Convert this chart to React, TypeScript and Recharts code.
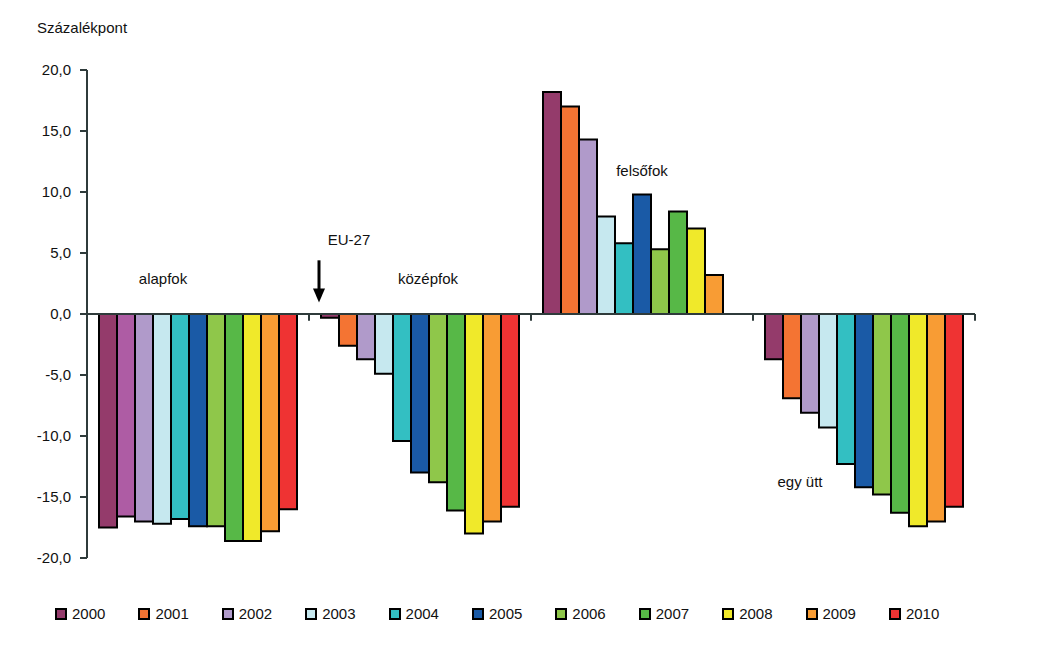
import React from 'react'
import { BarChart, Bar, XAxis, YAxis, ReferenceLine, ReferenceDot, Cell } from 'recharts'

const categories = ['alapfok', 'középfok', 'felsőfok', 'egy ütt']
const years = ['2000', '2001', '2002', '2003', '2004', '2005', '2006', '2007', '2008', '2009', '2010']

const alapfok = [-17.5, -16.6, -17.0, -17.2, -16.8, -17.4, -17.4, -18.6, -18.6, -17.8, -16.0]
const kozepfok = [-0.3, -2.6, -3.7, -4.9, -10.4, -13.0, -13.8, -16.1, -18.0, -17.0, -15.8]
const felsofok = [18.2, 17.0, 14.3, 8.0, 5.8, 9.8, 5.3, 8.4, 7.0, 3.2, null]
const egyutt = [-3.7, -6.9, -8.1, -9.3, -12.3, -14.2, -14.8, -16.3, -17.4, -17.0, -15.8]

const yTicks = [-20, -15, -10, -5, 0, 5, 10, 15, 20]

const colors = ['#943B6B', '#F47433', '#B09ACA', '#C6E8EF', '#33BFC2', '#1A5AA6', '#8FC74A', '#57B847', '#F0E92A', '#F89C34', '#EF3333']
// az alapfok 2001-es oszlopa eltérő színű az eredetin
const alapfok2001Color = '#AE5CA4'

const seriesByCat = [alapfok, kozepfok, felsofok, egyutt]
const chartData = categories.map((cat, ci) => {
  const row: { [key: string]: string | number | null } = { cat }
  years.forEach((y, yi) => {
    row[y] = seriesByCat[ci][yi]
  })
  return row
})

const FONT = '"Liberation Sans", Arial, sans-serif'
const AXIS = '#2F3B3B'

const fmt = (v: number) => v.toFixed(1).replace('.', ',')

const Arrow = (props: any) => {
  const { x1, y1, y2 } = props
  const x = x1 - 101
  return (
    <g>
      <line x1={x} y1={y1} x2={x} y2={y2 - 12} stroke="#000" strokeWidth={3} />
      <polygon points={`${x - 6},${y2 - 14} ${x + 6},${y2 - 14} ${x},${y2}`} fill="#000" />
    </g>
  )
}

const textLabel = (value: string, dx: number) => (props: any) => {
  const vb = props.viewBox || {}
  return (
    <text x={vb.x + dx} y={vb.y} textAnchor="middle" dominantBaseline="central" fontSize={15} fill="#111" fontFamily={FONT}>
      {value}
    </text>
  )
}

export default function App() {
  return (
    <div style={{ position: 'absolute', left: 0, top: 0, width: 1052, height: 648, background: '#fff', fontFamily: FONT }}>
      <div style={{ position: 'absolute', left: 37, top: 19, fontSize: 15, color: '#111' }}>Százalékpont</div>
      <BarChart
        width={1052}
        height={648}
        data={chartData}
        margin={{ top: 70, right: 77, bottom: 90, left: 0 }}
        barCategoryGap={12}
        barGap={0}
      >
        <XAxis dataKey="cat" hide />
        <YAxis
          width={87}
          domain={[-20, 20]}
          ticks={yTicks}
          tickFormatter={fmt}
          axisLine={{ stroke: AXIS, strokeWidth: 2 }}
          tickLine={{ stroke: AXIS, strokeWidth: 2 }}
          tickSize={7}
          tickMargin={9}
          tick={{ fontSize: 15, fill: '#111', fontFamily: FONT }}
          interval={0}
        />
        {years.map((y, yi) => (
          <Bar key={y} dataKey={y} fill={colors[yi]} stroke="#000" strokeWidth={2} isAnimationActive={false}>
            {categories.map((c, ci) => (
              <Cell key={c} fill={yi === 1 && ci === 0 ? alapfok2001Color : colors[yi]} />
            ))}
          </Bar>
        ))}
        <ReferenceLine y={0} stroke={AXIS} strokeWidth={2} />
        {categories.slice(1).map((c) => (
          <ReferenceLine
            key={c}
            position="start"
            segment={[{ x: c, y: 0 }, { x: c, y: -0.55 }]}
            stroke={AXIS}
            strokeWidth={2}
          />
        ))}
        <ReferenceLine
          position="end"
          segment={[{ x: categories[3], y: 0 }, { x: categories[3], y: -0.55 }]}
          stroke={AXIS}
          strokeWidth={2}
        />
        <ReferenceLine
          segment={[{ x: categories[1], y: 4.4 }, { x: categories[1], y: 0.95 }]}
          shape={Arrow}
        />
        <ReferenceDot x={categories[1]} y={6.1} r={0} label={textLabel('EU-27', -71)} />
        <ReferenceDot x={categories[0]} y={2.95} r={0} label={textLabel(categories[0], -35)} />
        <ReferenceDot x={categories[1]} y={2.95} r={0} label={textLabel(categories[1], 8)} />
        <ReferenceDot x={categories[2]} y={11.8} r={0} label={textLabel(categories[2], 0)} />
        <ReferenceDot x={categories[3]} y={-13.7} r={0} label={textLabel(categories[3], -64)} />
      </BarChart>
      <div style={{ position: 'absolute', left: 55, top: 605, display: 'flex' }}>
        {years.map((y, yi) => (
          <div key={y} style={{ width: 83.4, display: 'flex', alignItems: 'center', fontSize: 15, color: '#111' }}>
            <span style={{ width: 8, height: 8, border: '2px solid #000', background: colors[yi], marginRight: 5, display: 'inline-block' }} />
            {y}
          </div>
        ))}
      </div>
    </div>
  )
}
